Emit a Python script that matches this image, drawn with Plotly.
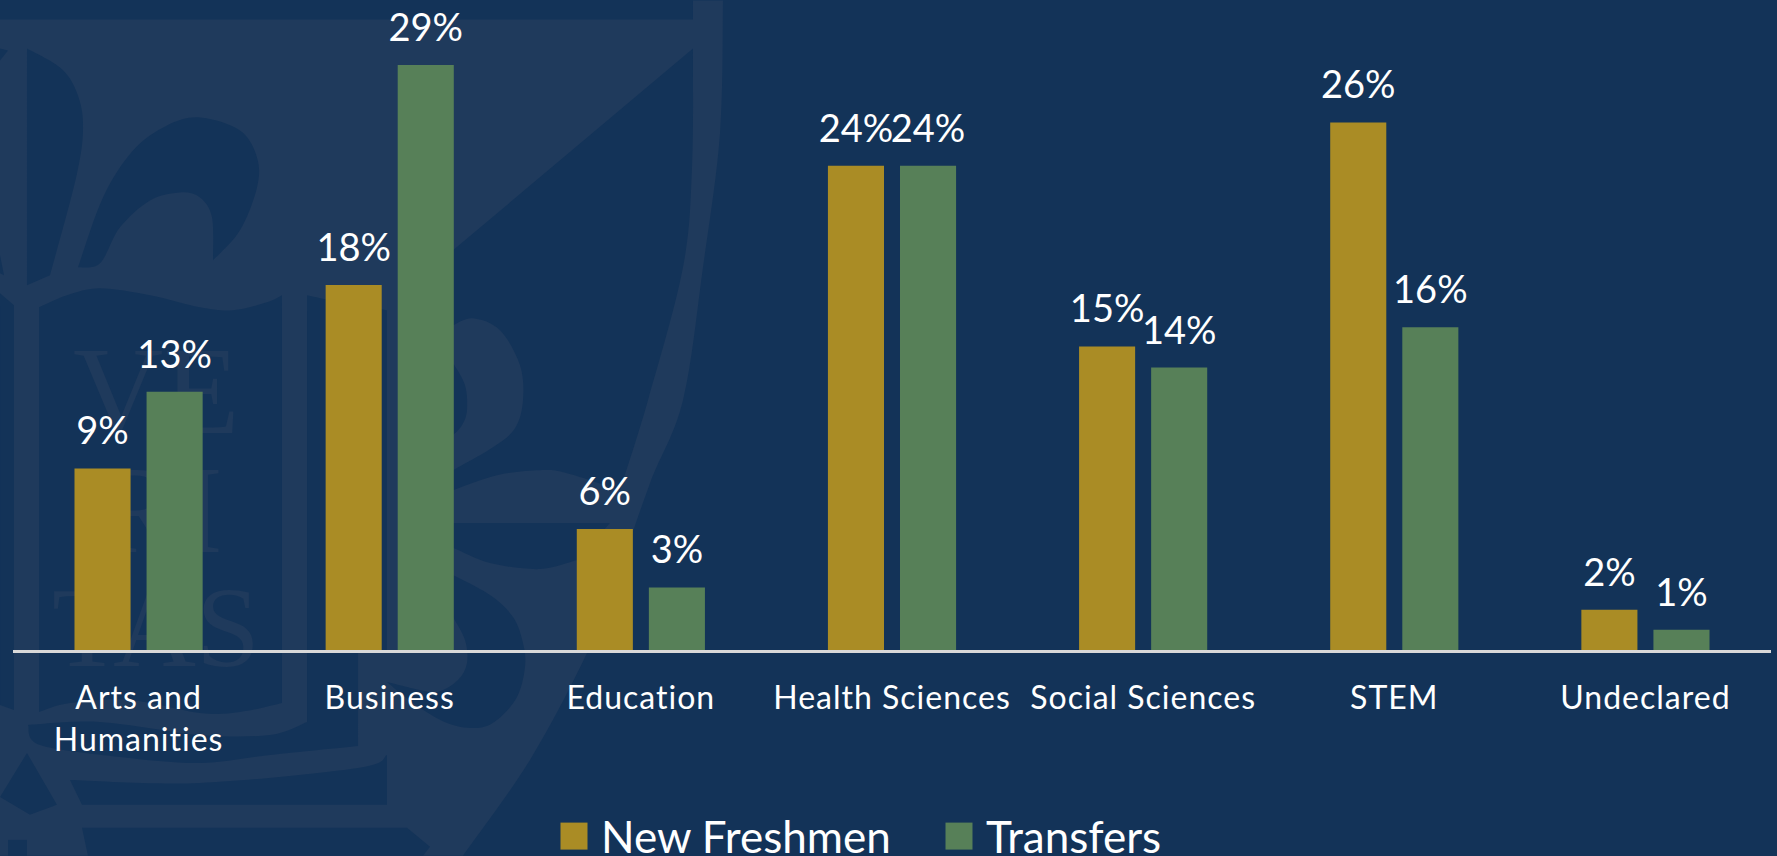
import plotly.graph_objects as go

categories = ["Arts and<br>Humanities", "Business", "Education", "Health Sciences",
              "Social Sciences", "STEM", "Undeclared"]
new_freshmen = [9, 18.1, 6, 24, 15.05, 26.15, 2]
transfers = [12.8, 29, 3.1, 24, 14, 16, 1]

BG = "#133358"
LIGHT = "#1f3a5c"
GOLD = "#aa8c25"
GREEN = "#578058"
W, H = 1777, 856
FONT = "Lato"
L, R, T, B = 13, 6, 64.5, 206
PW, PH = W - L - R, H - T - B


def to_paper(p):
    return (round((p[0] - L) / PW, 5), round((H - B - p[1]) / PH, 5))


def smooth_run(pts):
    """Catmull-Rom through pts, as cubic segments, in paper coordinates."""
    out = ""
    n = len(pts)
    for i in range(n - 1):
        p0 = pts[max(i - 1, 0)]
        p1, p2 = pts[i], pts[i + 1]
        p3 = pts[min(i + 2, n - 1)]
        c1 = (p1[0] + (p2[0] - p0[0]) / 6, p1[1] + (p2[1] - p0[1]) / 6)
        c2 = (p2[0] - (p3[0] - p1[0]) / 6, p2[1] - (p3[1] - p1[1]) / 6)
        a, b, c = to_paper(c1), to_paper(c2), to_paper(p2)
        out += f"C{a[0]},{a[1]} {b[0]},{b[1]} {c[0]},{c[1]}"
    return out


def wm_path(runs):
    s = to_paper(runs[0][0])
    d = f"M{s[0]},{s[1]}"
    for run in runs:
        st = to_paper(run[0])
        d += f"L{st[0]},{st[1]}" + smooth_run(run)
    return d + "Z"


shield = [[(0,19)], [(693,19)], [(693,0)],
          [(723,0),(720,133),(703,267),(683,400),(650,483),(617,577),(587,653),(530,760),(463,856)],
          [(0,856)]]
holes = [
    # right of the flower, under the chief
    [[(693,48),(692,167),(683,267),(648,400),(620,490)],
     [(620,490),(567,473),(540,470),(497,475),(453,490)],
     [(437,492)], [(437,262)], [(453,250)],
     [(453,325),(473,318),(500,330),(520,365),(523,400),(515,428),(493,447),(453,470)],
     [(453,250)]],
    # left petal
    [[(27,48),(60,67),(76,90),(83,123),(77,173),(50,275)], [(27,285)]],
    [[(0,48)], [(8,50)], [(0,60)]],
    [[(0,255)], [(4,275)], [(0,273)]],
    # middle petal
    [[(78,267),(100,263),(120,227),(150,200),(180,192),(200,197),(212,217),(213,260)],
     [(213,260),(240,230),(257,187),(257,157),(240,130),(200,117),(167,125),(133,150),(103,197),(78,267)]],
    # book panels
    [[(0,293)], [(14,305)], [(14,710)], [(0,705)]],
    [[(39,307),(67,295),(100,288),(150,295),(200,307),(233,310),(267,302),(282,295)],
     [(282,703),(240,712),(200,713),(130,700),(70,703),(39,712)]],
    [[(307,295),(340,302),(387,310)], [(387,652)], [(358,652)],
     [(358,746),(270,755),(200,763),(120,757),(40,745),(28,725)],
     [(28,725),(100,722),(200,735),(270,735),(307,722)]],
    [[(70,780),(200,783),(358,768),(387,755)], [(387,805)], [(82,805)]],
    [[(82,828)], [(407,828)], [(430,847)], [(423,856)], [(88,856)]],
    [[(27,753)], [(0,797)], [(30,815),(57,805)]],
    [[(8,840)], [(27,840)], [(27,856)], [(8,856)]],
    # strip and crescents
    [[(437,523)], [(610,523)], [(577,560),(540,569),(490,563),(453,548),(437,545)]],
    [[(453,575),(490,595),(513,617),(523,643),(525,667),(517,697),(497,720),(477,728),(447,723),(413,703),(387,682)],
     [(387,682),(420,690),(438,692),(458,680),(467,663),(465,640),(453,617)]],
    [[(445,355),(453,363),(465,385),(467,410),(462,425),(453,435)], [(445,440)]],
]
watermark_letters = [("VE", 157, 391, 125), ("RI", 160, 510, 125), ("TAS", 156, 627, 115)]


def page_shape(runs, color):
    return dict(type="path", xref="paper", yref="paper", layer="below", line_width=0,
                fillcolor=color, path=wm_path(runs))


shapes = [page_shape(shield, LIGHT)] + [page_shape(h, BG) for h in holes]
annotations = [dict(text=t, xref="paper", yref="paper", x=to_paper((x, y))[0], y=to_paper((x, y))[1],
                    showarrow=False, xanchor="center", yanchor="middle",
                    font=dict(family="Liberation Serif", size=s, color=LIGHT))
               for t, x, y, s in watermark_letters]

fig = go.Figure()
for name, values, color in [("New Freshmen", new_freshmen, GOLD), ("Transfers", transfers, GREEN)]:
    fig.add_bar(x=categories, y=values, name=name, marker_color=color, marker_line_width=0,
                text=[f"{round(v)}%" for v in values], textposition="outside", cliponaxis=False,
                constraintext="none", textangle=0,
                textfont=dict(size=38, color="white", family=FONT))

fig.update_layout(
    width=W, height=H, margin=dict(l=L, r=R, t=T, b=B),
    paper_bgcolor=BG, plot_bgcolor="rgba(0,0,0,0)",
    barmode="group", bargap=0.426, bargroupgap=0.222,
    font=dict(family=FONT, color="white"),
    shapes=shapes, annotations=annotations,
    legend=dict(orientation="h", x=554 / W, y=1 - 801 / H, xanchor="left", yanchor="top",
                xref="container", yref="container", entrywidth=340, entrywidthmode="pixels",
                font=dict(size=44, color="white", family=FONT),
                bgcolor="rgba(0,0,0,0)"),
)
fig.update_xaxes(showgrid=False, showline=True, linecolor="#d9d9d9", linewidth=2.6,
                 ticks="outside", ticklen=18, tickcolor="rgba(0,0,0,0)",
                 tickfont=dict(size=32, color="white", family=FONT), automargin=False)
fig.update_yaxes(visible=False, range=[0, 29], showgrid=False, zeroline=False, automargin=False)

post = """
document.body.style.margin = '0';
document.documentElement.style.overflow = 'hidden';
var gd = document.querySelector('.plotly-graph-div');
gd.querySelectorAll('.legendpoints path').forEach(function(p){
  p.setAttribute('transform', (p.getAttribute('transform') || '') + ' scale(2.25)');
});
gd.querySelectorAll('.legendtext').forEach(function(t){
  t.setAttribute('x', parseFloat(t.getAttribute('x')) + 7);
});
gd.querySelectorAll('.bartext').forEach(function(t){
  t.setAttribute('transform', 'translate(0,-13) ' + (t.getAttribute('transform') || ''));
});
gd.querySelectorAll('.xtick text').forEach(function(t){ t.style.letterSpacing = '1px'; });
var below = gd.querySelector('.layer-below');
gd.querySelectorAll('.annotation').forEach(function(a){ below.appendChild(a); });
"""
fig.write_html("out.html", post_script=post, config={"displayModeBar": False})
